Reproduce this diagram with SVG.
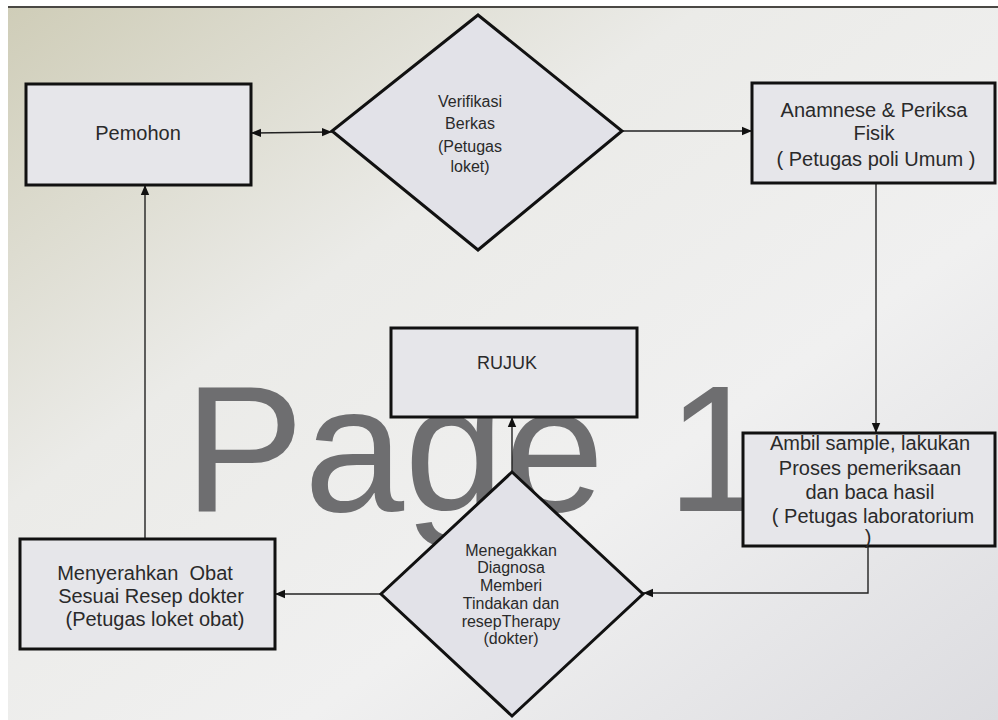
<svg xmlns="http://www.w3.org/2000/svg" width="998" height="720" viewBox="0 0 998 720">
  <defs>
    <linearGradient id="bg" x1="0" y1="0" x2="1" y2="1">
      <stop offset="0" stop-color="#cfcdb8"/>
      <stop offset="0.35" stop-color="#ebebe8"/>
      <stop offset="0.65" stop-color="#f0f0f0"/>
      <stop offset="1" stop-color="#dcdce0"/>
    </linearGradient>
    <marker id="arr" viewBox="0 0 10 10" refX="10" refY="5" markerWidth="10" markerHeight="10" markerUnits="userSpaceOnUse" orient="auto-start-reverse">
      <path d="M0,0.8 L10,5 L0,9.2 Z" fill="#111"/>
    </marker>
    <style>
      .box { fill: #e6e6ea; stroke: #111; stroke-width: 3; }
      .dia { fill: #e2e2e8; stroke: #111; stroke-width: 3; stroke-linejoin: miter; }
      .lbl { font-family: "Liberation Sans", Arial, sans-serif; font-size: 20px; fill: #2a2a2a; text-anchor: middle; }
      .sm { font-size: 16px; }
      .con { fill: none; stroke: #222; stroke-width: 1.4; }
      .wm { font-family: "Liberation Sans", Arial, sans-serif; font-size: 180px; fill: #6e6e70; word-spacing: 12px; }
    </style>
  </defs>

  <rect x="0" y="0" width="998" height="720" fill="#ffffff"/>
  <rect x="8" y="8" width="990" height="712" fill="url(#bg)"/>
  <rect x="8" y="6" width="990" height="2" fill="#4a4844"/>

  <text class="wm" x="184" y="511">Page 1</text>

  <g id="connectors">
    <line class="con" x1="251" y1="133" x2="332" y2="132" marker-start="url(#arr)" marker-end="url(#arr)"/>
    <line class="con" x1="622" y1="131" x2="752" y2="131" marker-end="url(#arr)"/>
    <line class="con" x1="876" y1="183" x2="876" y2="433" marker-end="url(#arr)"/>
    <polyline class="con" points="868,546 868,593 643,593" marker-end="url(#arr)"/>
    <line class="con" x1="512" y1="472" x2="512" y2="417" marker-end="url(#arr)"/>
    <line class="con" x1="381" y1="594" x2="275" y2="594" marker-end="url(#arr)"/>
    <line class="con" x1="145" y1="539" x2="145" y2="185" marker-end="url(#arr)"/>
  </g>

  <g id="pemohon">
    <rect class="box" x="26" y="84" width="225" height="101"/>
    <text class="lbl" x="138" y="140">Pemohon</text>
  </g>

  <g id="verifikasi">
    <polygon class="dia" points="478,15 622,131 478,250 332,131"/>
    <text class="lbl sm" x="470" y="107">Verifikasi</text>
    <text class="lbl sm" x="470" y="129">Berkas</text>
    <text class="lbl sm" x="470" y="152">(Petugas</text>
    <text class="lbl sm" x="470" y="172">loket)</text>
  </g>

  <g id="anamnese">
    <rect class="box" x="752" y="83" width="243" height="100"/>
    <text class="lbl" x="874" y="117">Anamnese &amp; Periksa</text>
    <text class="lbl" x="874" y="140">Fisik</text>
    <text class="lbl" x="876" y="166">( Petugas poli Umum )</text>
  </g>

  <g id="rujuk">
    <rect class="box" x="391" y="328" width="246" height="89"/>
    <text class="lbl" x="507" y="369" style="font-size:18px">RUJUK</text>
  </g>

  <g id="ambil">
    <rect class="box" x="743" y="433" width="252" height="113"/>
    <text class="lbl" x="870" y="450">Ambil sample, lakukan</text>
    <text class="lbl" x="870" y="475">Proses pemeriksaan</text>
    <text class="lbl" x="870" y="499">dan baca hasil</text>
    <text class="lbl" x="873" y="523">( Petugas laboratorium</text>
    <text class="lbl" x="868" y="544">)</text>
  </g>

  <g id="menegakkan">
    <polygon class="dia" points="512,472 643,594 512,716 381,594"/>
    <text class="lbl sm" x="511" y="556">Menegakkan</text>
    <text class="lbl sm" x="511" y="573">Diagnosa</text>
    <text class="lbl sm" x="511" y="591">Memberi</text>
    <text class="lbl sm" x="511" y="609">Tindakan dan</text>
    <text class="lbl sm" x="511" y="627">resepTherapy</text>
    <text class="lbl sm" x="511" y="644">(dokter)</text>
  </g>

  <g id="menyerahkan">
    <rect class="box" x="20" y="539" width="255" height="110"/>
    <text class="lbl" x="145" y="580" xml:space="preserve">Menyerahkan  Obat</text>
    <text class="lbl" x="151" y="603">Sesuai Resep dokter</text>
    <text class="lbl" x="155" y="626">(Petugas loket obat)</text>
  </g>
</svg>
